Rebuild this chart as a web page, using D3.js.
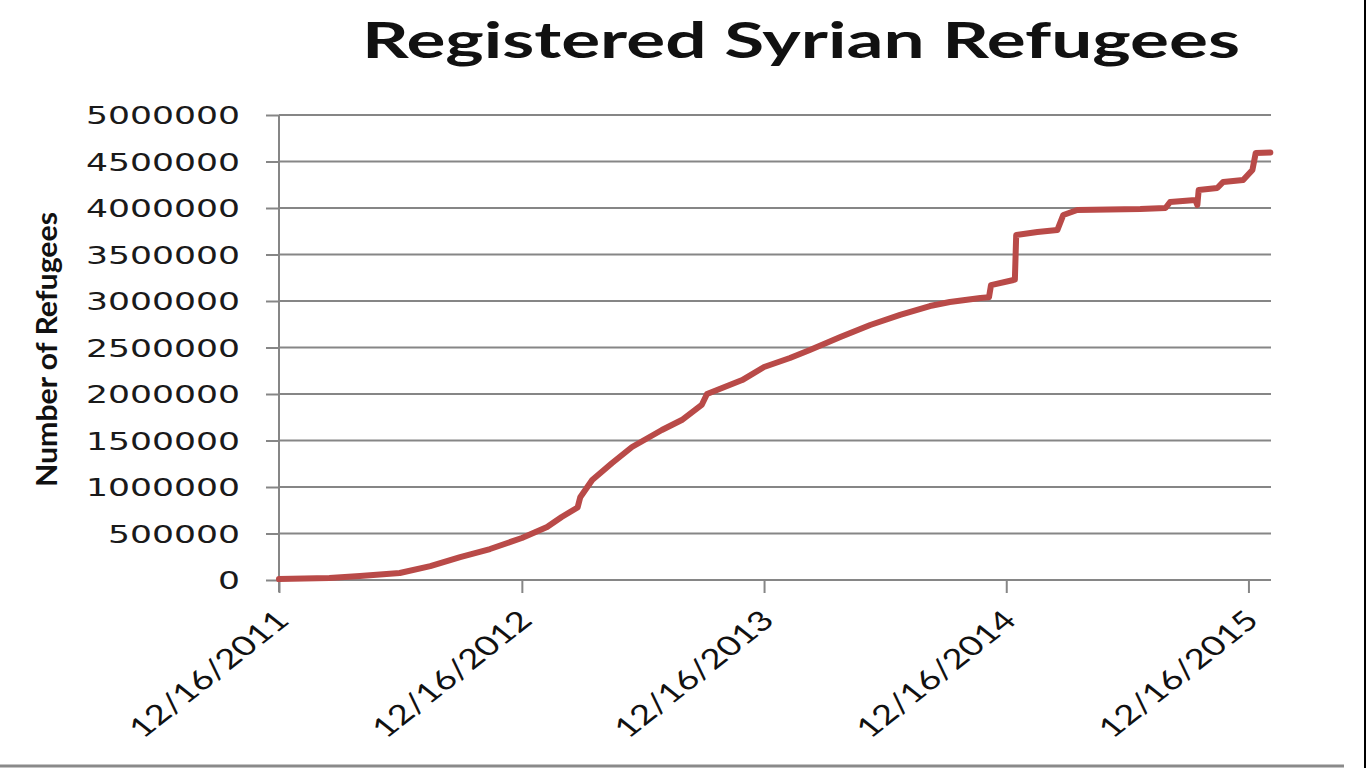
<!DOCTYPE html>
<html>
<head>
<meta charset="utf-8">
<script src="https://cdn.jsdelivr.net/npm/d3@7"></script>
<style>
  html, body { margin: 0; padding: 0; background: #fff; overflow: hidden; }
  svg { display: block; }
</style>
</head>
<body>
<svg id="chart" width="1366" height="768"></svg>
<script>
// ---- data ----
const dates = [
  "2011-12-16","2012-03-01","2012-04-16","2012-06-15","2012-07-31","2012-09-14",
  "2012-10-29","2012-12-16","2013-01-23","2013-02-14","2013-03-10","2013-03-14",
  "2013-04-01","2013-05-01","2013-05-31","2013-07-15","2013-08-14","2013-09-13",
  "2013-09-21","2013-11-13","2013-12-16","2014-01-24","2014-02-23","2014-04-10",
  "2014-05-25","2014-07-09","2014-08-23","2014-09-22","2014-11-07","2014-11-20",
  "2014-11-23","2014-12-27","2014-12-29","2014-12-31","2015-02-01","2015-03-03",
  "2015-03-12","2015-04-02","2015-07-06","2015-08-13","2015-08-20","2015-09-27",
  "2015-09-30","2015-10-02","2015-10-30","2015-11-08","2015-12-08","2015-12-22",
  "2015-12-27","2016-01-18"
];
const refugees = [
  10000, 21000, 43000, 75000, 150000, 247000,
  333000, 452000, 570000, 677000, 780000, 890000,
  1075000, 1258000, 1430000, 1613000, 1720000, 1882000,
  2000000, 2150000, 2290000, 2387000, 2473000, 2613000,
  2742000, 2850000, 2946000, 2989000, 3032000, 3040000,
  3170000, 3226000, 3230000, 3710000, 3742000, 3763000,
  3925000, 3979000, 3989000, 4000000, 4065000, 4086000,
  4032000, 4194000, 4215000, 4280000, 4301000, 4409000,
  4592000, 4597000
];
const xTickLabels = ["12/16/2011","12/16/2012","12/16/2013","12/16/2014","12/16/2015"];
const yTickValues = [0,500000,1000000,1500000,2000000,2500000,3000000,3500000,4000000,4500000,5000000];
const domainStart = "2011-12-16";
const domainEnd = "2016-01-19";
const titleText = "Registered Syrian Refugees";
const yAxisTitle = "Number of Refugees";

// ---- drawing ----
const parse = d3.timeParse("%Y-%m-%d");
const parseTick = d3.timeParse("%m/%d/%Y");
const data = dates.map((d, i) => ({ date: parse(d), value: refugees[i] }));

const svg = d3.select("#chart");
const plotLeft = 279, plotRight = 1271, plotTop = 115, plotBottom = 580;

const x = d3.scaleTime().domain([parse(domainStart), parse(domainEnd)]).range([plotLeft, plotRight]);
const y = d3.scaleLinear().domain([0, 5000000]).range([plotBottom, plotTop]);

const gridColor = "#868686";

// gridlines
svg.append("g").selectAll("line").data(yTickValues).join("line")
  .attr("x1", plotLeft).attr("x2", plotRight)
  .attr("y1", d => y(d)).attr("y2", d => y(d))
  .attr("stroke", gridColor).attr("stroke-width", 2);

// y axis
const yAxis = d3.axisLeft(y).tickValues(yTickValues).tickSize(13).tickFormat("");
const yg = svg.append("g").attr("transform", `translate(${plotLeft},0)`).call(yAxis);
yg.select(".domain").remove();
yg.selectAll(".tick line").attr("stroke", gridColor).attr("stroke-width", 2);
svg.append("line").attr("x1", plotLeft).attr("x2", plotLeft).attr("y1", plotTop).attr("y2", plotBottom + 12)
  .attr("stroke", gridColor).attr("stroke-width", 2);

// y tick labels
svg.append("g").selectAll("text").data(yTickValues).join("text")
  .attr("x", 240).attr("y", d => y(d) + 1)
  .attr("text-anchor", "end").attr("dominant-baseline", "central")
  .attr("font-family", "DejaVu Sans").attr("font-size", 24).attr("fill", "#1a1a1a")
  .attr("textLength", d => String(d).length * 22).attr("lengthAdjust", "spacingAndGlyphs")
  .text(d => String(d));

// x axis ticks
const xTicks = xTickLabels.map(s => parseTick(s));
const xAxis = d3.axisBottom(x).tickValues(xTicks).tickSize(13).tickFormat("");
const xg = svg.append("g").attr("transform", `translate(0,${plotBottom})`).call(xAxis);
xg.select(".domain").remove();
xg.selectAll(".tick line").attr("stroke", gridColor).attr("stroke-width", 2);

// x tick labels (rotated)
svg.append("g").selectAll("text").data(xTickLabels).join("text")
  .attr("transform", d => `translate(${x(parseTick(d)) + 12},${622}) scale(1.26,1) rotate(-45)`)
  .attr("text-anchor", "end")
  .attr("font-family", "Lato").attr("font-size", 27).attr("fill", "#111")
  .attr("textLength", 166).attr("lengthAdjust", "spacingAndGlyphs")
  .text(d => d);

// line
const line = d3.line().x(d => x(d.date)).y(d => y(d.value));
svg.append("path").datum(data)
  .attr("d", line)
  .attr("fill", "none")
  .attr("stroke", "#b94a48")
  .attr("stroke-width", 6)
  .attr("stroke-linejoin", "round")
  .attr("stroke-linecap", "round");

// title
svg.append("text")
  .attr("x", 362).attr("y", 58)
  .attr("font-family", "Lato").attr("font-weight", "bold").attr("font-size", 50)
  .attr("fill", "#111")
  .attr("textLength", 878).attr("lengthAdjust", "spacingAndGlyphs")
  .text(titleText);

// y axis title
svg.append("text")
  .attr("transform", "translate(57,487) rotate(-90)")
  .attr("font-family", "Lato").attr("font-weight", "bold").attr("font-size", 29)
  .attr("fill", "#111")
  .attr("textLength", 275).attr("lengthAdjust", "spacingAndGlyphs")
  .text(yAxisTitle);

// frame edges of the picture
svg.append("line").attr("x1", 0).attr("x2", 1344).attr("y1", 766).attr("y2", 766)
  .attr("stroke", "#8a8a8a").attr("stroke-width", 3);
svg.append("line").attr("x1", 1365).attr("x2", 1365).attr("y1", 0).attr("y2", 768)
  .attr("stroke", "#000").attr("stroke-width", 2);
</script>
</body>
</html>
